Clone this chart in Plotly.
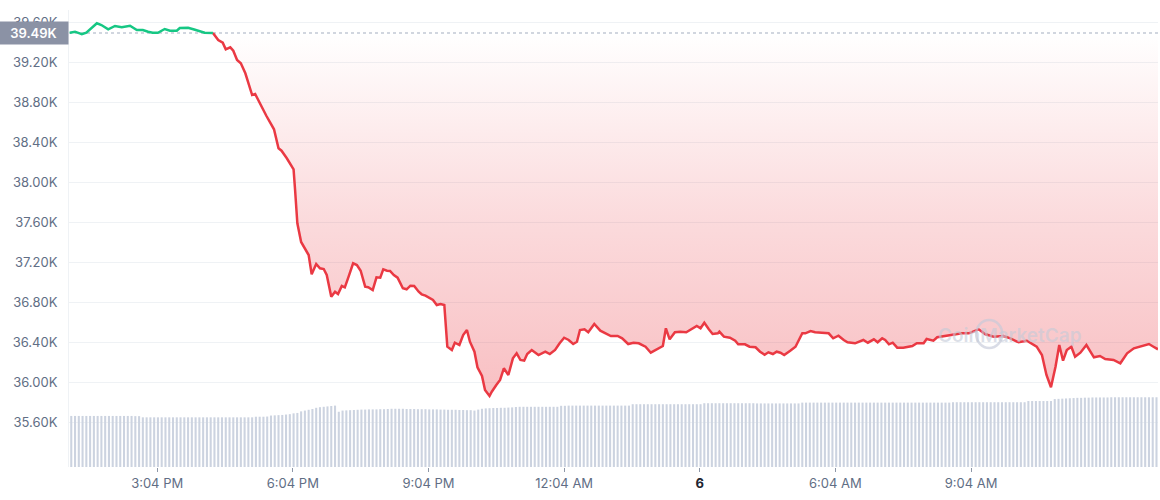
import pandas as pd
import plotly.graph_objects as go

# ---------------- data ----------------
BASE_PRICE = 39490          # reference (open) price shown by the dotted line
BASE_LABEL = "39.49K"
SPLIT_TIME = "16:18"        # where the price crosses below the reference

price_times = [
    "13:08", "13:15", "13:24", "13:30", "13:44", "13:50", "13:59", "14:08", "14:17", "14:28",
    "14:37", "14:45", "14:52", "14:58", "15:05", "15:14", "15:21", "15:30", "15:34", "15:45",
    "15:52", "15:58", "16:07", "16:18",
    "16:25", "16:31", "16:35", "16:41", "16:45", "16:50", "16:55", "17:01", "17:05", "17:10",
    "17:14", "17:18", "17:24", "17:29", "17:34", "17:39", "17:45", "17:49", "17:56", "18:05",
    "18:07", "18:10", "18:15", "18:20", "18:25", "18:29", "18:35", "18:40", "18:45", "18:49",
    "18:55", "19:00", "19:04", "19:09", "19:13", "19:18", "19:24", "19:29", "19:34", "19:40",
    "19:44", "19:50", "19:55", "20:00", "20:04", "20:09", "20:13", "20:18", "20:23", "20:30",
    "20:35", "20:40", "20:45", "20:51", "20:55", "21:00", "21:05", "21:10", "21:15", "21:20",
    "21:25", "21:29", "21:35", "21:39", "21:45", "21:50", "21:55", "21:59", "22:05", "22:09",
    "22:15", "22:19", "22:25", "22:28", "22:34", "22:39", "22:44", "22:50", "22:56", "23:01",
    "23:06", "23:11", "23:15", "23:21", "23:30", "23:39", "23:45", "23:52", "23:58", "00:04",
    "00:10", "00:16", "00:21", "00:25", "00:31", "00:36", "00:44", "00:52", "00:59", "01:06",
    "01:15", "01:21", "01:29", "01:36", "01:43", "01:52", "01:59", "02:07", "02:15", "02:19",
    "02:24", "02:31", "02:38", "02:46", "02:54", "03:00", "03:05", "03:10", "03:16", "03:21",
    "03:28", "03:30", "03:36", "03:44", "03:51", "03:55", "04:04", "04:10", "04:18", "04:24",
    "04:30", "04:35", "04:41", "04:46", "04:51", "04:56", "05:04", "05:11", "05:20", "05:24",
    "05:31", "05:37", "05:46", "05:55", "06:01", "06:08", "06:15", "06:20", "06:30", "06:37",
    "06:41", "06:47", "06:55", "07:00", "07:06", "07:10", "07:15", "07:20", "07:26", "07:34",
    "07:46", "07:52", "08:01", "08:05", "08:14", "08:19", "08:30", "08:39", "08:45", "08:52",
    "09:01", "09:10", "09:14", "09:23", "09:34", "09:47", "09:56", "10:07", "10:18", "10:31",
    "10:38", "10:44", "10:50", "10:56", "11:01", "11:06", "11:11", "11:17", "11:22", "11:29",
    "11:37", "11:47", "11:55", "12:02", "12:13", "12:22", "12:31", "12:40", "12:49", "13:00",
    "13:06", "13:12",
]
price_values = [
    39493, 39503, 39478, 39493, 39587, 39570, 39527, 39560, 39547, 39563,
    39520, 39520, 39503, 39492, 39492, 39530, 39513, 39513, 39540, 39543,
    39527, 39510, 39492, 39490,
    39420, 39393, 39327, 39347, 39313, 39220, 39187, 39087, 38987, 38870,
    38880, 38820, 38720, 38660, 38593, 38527, 38337, 38313, 38237, 38127,
    37920, 37587, 37400, 37337, 37270, 37077, 37180, 37137, 37130, 37070,
    36853, 36903, 36880, 36960, 36947, 37053, 37187, 37170, 37113, 36953,
    36947, 36920, 37047, 37043, 37127, 37113, 37110, 37070, 37043, 36937,
    36927, 36963, 36960, 36903, 36877, 36863, 36837, 36820, 36770, 36780,
    36770, 36353, 36320, 36393, 36370, 36470, 36520, 36403, 36303, 36147,
    36060, 35920, 35860, 35903, 35970, 36020, 36137, 36070, 36237, 36287,
    36220, 36213, 36280, 36320, 36270, 36303, 36280, 36320, 36387, 36443,
    36420, 36380, 36403, 36520, 36527, 36497, 36580, 36513, 36487, 36460,
    36460, 36437, 36380, 36393, 36387, 36353, 36293, 36327, 36360, 36537,
    36427, 36497, 36503, 36497, 36537, 36560, 36537, 36593, 36527, 36480,
    36487, 36503, 36453, 36443, 36413, 36377, 36377, 36353, 36347, 36303,
    36273, 36297, 36280, 36303, 36293, 36270, 36313, 36353, 36487, 36487,
    36510, 36497, 36493, 36487, 36437, 36463, 36420, 36397, 36387, 36413,
    36420, 36393, 36427, 36397, 36437, 36420, 36377, 36393, 36343, 36343,
    36360, 36387, 36387, 36430, 36413, 36447, 36460, 36477, 36480, 36487,
    36487, 36513, 36527, 36477, 36453, 36460, 36437, 36397, 36413, 36353,
    36270, 36070, 35947, 36153, 36370, 36213, 36320, 36353, 36253, 36293,
    36370, 36247, 36260, 36230, 36220, 36187, 36287, 36337, 36353, 36380,
    36353, 36327,
]

# 24h volume (billions USD), one bar every 5 minutes
volume_start = "2022-01-05 13:10"
volume_values = [
    25.7, 25.7, 25.7, 25.7, 25.7, 25.7, 25.7, 25.7, 25.7, 25.7, 25.7, 25.7,
    25.7, 25.7, 25.7, 25.7, 25.7, 25.6, 25.6, 25.0, 25.0, 25.0, 25.0, 25.0,
    25.0, 25.0, 25.0, 25.0, 25.0, 25.0, 25.0, 25.0, 25.0, 25.0, 25.0, 25.0,
    25.0, 25.0, 25.0, 25.0, 25.0, 25.0, 25.0, 25.0, 25.0, 25.0, 25.0, 25.0,
    25.0, 25.3, 25.3, 25.3, 25.4, 25.9, 26.0, 26.1, 26.2, 26.4, 26.6, 27.0,
    27.2, 28.0, 28.4, 28.8, 29.2, 29.8, 30.1, 30.3, 30.5, 30.7, 30.9, 27.8,
    28.4, 28.5, 28.6, 28.7, 28.8, 28.9, 28.9, 29.0, 29.0, 29.0, 29.1, 29.1,
    29.2, 29.3, 29.3, 29.3, 29.3, 29.2, 29.2, 29.2, 29.1, 29.1, 29.1, 29.0,
    29.0, 29.0, 28.9, 28.9, 28.8, 28.8, 28.8, 28.7, 28.7, 28.6, 28.6, 28.4,
    28.9, 29.3, 29.5, 29.6, 29.7, 29.7, 29.8, 29.8, 29.9, 30.0, 30.2, 30.3,
    30.3, 30.3, 30.3, 30.3, 30.3, 30.3, 30.3, 30.3, 30.3, 30.3, 30.8, 30.8,
    30.9, 30.9, 30.9, 30.9, 30.9, 30.9, 30.9, 30.9, 30.9, 30.9, 30.9, 30.9,
    30.9, 30.9, 30.9, 30.9, 30.9, 31.6, 31.6, 31.6, 31.6, 31.6, 31.6, 31.6,
    31.6, 31.6, 31.6, 31.6, 31.6, 31.6, 31.6, 31.6, 31.6, 31.6, 31.6, 31.6,
    32.1, 32.1, 32.1, 32.1, 32.1, 32.1, 32.1, 32.1, 32.1, 32.1, 32.1, 32.1,
    32.1, 32.1, 32.0, 32.0, 32.0, 32.0, 32.0, 32.0, 32.0, 32.0, 32.0, 32.0,
    32.0, 32.0, 32.4, 32.4, 32.4, 32.4, 32.4, 32.4, 32.4, 32.4, 32.4, 32.4,
    32.4, 32.4, 32.4, 32.4, 32.4, 32.4, 32.4, 32.4, 32.4, 32.4, 32.4, 32.4,
    32.4, 32.4, 32.4, 32.4, 32.4, 32.4, 32.4, 32.4, 32.4, 32.4, 32.4, 32.4,
    32.4, 32.4, 32.4, 32.4, 32.4, 32.4, 32.6, 32.6, 32.6, 32.6, 32.6, 32.6,
    32.6, 32.6, 32.6, 32.6, 32.6, 32.6, 32.6, 32.6, 32.6, 32.6, 32.6, 32.6,
    32.6, 32.6, 33.2, 33.2, 33.2, 33.2, 33.2, 33.2, 33.2, 34.2, 34.3, 34.4,
    34.5, 34.6, 34.7, 34.8, 34.8, 34.9, 34.9, 35.0, 35.0, 35.0, 35.0, 35.0,
    35.1, 35.1, 35.1, 35.1, 35.1, 35.1, 35.1, 35.1, 35.1, 35.1, 35.1, 35.1,
    35.1,
]

x_tick_times = ["2022-01-05 15:04", "2022-01-05 18:04", "2022-01-05 21:04",
                "2022-01-06 00:04", "2022-01-06 03:04", "2022-01-06 06:04",
                "2022-01-06 09:04"]
x_tick_labels = ["3:04 PM", "6:04 PM", "9:04 PM", "12:04 AM",
                 "<span style='color:#222531'><b>6</b></span>", "6:04 AM", "9:04 AM"]
y_tick_values = [35600, 36000, 36400, 36800, 37200, 37600, 38000, 38400, 38800, 39200, 39600]
y_tick_labels = ["35.60K", "36.00K", "36.40K", "36.80K", "37.20K", "37.60K",
                 "38.00K", "38.40K", "38.80K", "39.20K", "39.60K"]

# ---------------- build ----------------
stamps = []
day = pd.Timestamp("2022-01-05")
prev = None
for t in price_times:
    h, m = map(int, t.split(":"))
    mins = h * 60 + m
    if prev is not None and mins < prev:
        day += pd.Timedelta(days=1)
    prev = mins
    stamps.append(day + pd.Timedelta(hours=h, minutes=m))

k = price_times.index(SPLIT_TIME)
green_x, green_y = stamps[:k + 1], price_values[:k + 1]
red_x, red_y = stamps[k:], price_values[k:]

vol_x = pd.date_range(volume_start, periods=len(volume_values), freq="5min")

RED = "#ea3943"
GREEN = "#16c784"
LABEL = "#616e85"

fig = go.Figure()

# invisible reference baseline for the fill
fig.add_trace(go.Scatter(
    x=[red_x[0], red_x[-1]], y=[BASE_PRICE, BASE_PRICE],
    mode="lines", line=dict(width=0, color="rgba(0,0,0,0)"),
    hoverinfo="skip", showlegend=False))

fig.add_trace(go.Scatter(
    x=red_x, y=red_y, mode="lines",
    line=dict(color=RED, width=2.5),
    fill="tonexty",
    fillgradient=dict(
        type="vertical",
        start=min(red_y), stop=BASE_PRICE,
        colorscale=[[0, "rgba(234,57,67,0.32)"],
                    [0.5, "rgba(234,57,67,0.18)"],
                    [1, "rgba(234,57,67,0.0)"]]),
    hoverinfo="skip", showlegend=False))

fig.add_trace(go.Scatter(
    x=green_x, y=green_y, mode="lines",
    line=dict(color=GREEN, width=2.5),
    hoverinfo="skip", showlegend=False))

fig.add_trace(go.Bar(
    x=vol_x, y=volume_values, yaxis="y2",
    marker=dict(color="#ccd3e0", line=dict(width=0)),
    hoverinfo="skip", showlegend=False))

fig.add_shape(type="line", xref="paper", x0=0, x1=1, yref="y",
              y0=BASE_PRICE, y1=BASE_PRICE,
              line=dict(color="#a3adbf", width=1, dash="dot"), layer="below")

fig.add_annotation(xref="paper", x=0, xanchor="right", yref="y", y=BASE_PRICE,
                   yanchor="middle", text=BASE_LABEL, showarrow=False,
                   width=69, height=22, borderpad=0, bgcolor="#8b92a5",
                   font=dict(family="Inter", size=13, color="white", weight=600))

# watermark
fig.add_annotation(xref="paper", x=0.932, yref="y", y=36465, text="CoinMarketCap",
                   showarrow=False, font=dict(family="Inter", size=19,
                                              color="rgba(196,202,216,0.6)", weight=600))
fig.add_shape(type="circle", xref="paper", yref="y",
              x0=0.833, x1=0.857, y0=36340, y1=36620,
              line=dict(color="rgba(196,202,216,0.65)", width=2.5))

fig.update_layout(
    width=1160, height=500,
    margin=dict(l=69, r=2, t=10, b=33),
    paper_bgcolor="white", plot_bgcolor="white",
    bargap=0.45,
    font=dict(family="Inter", size=13, color=LABEL),
    xaxis=dict(
        type="date",
        range=["2022-01-05 13:07", "2022-01-06 13:12"],
        tickvals=x_tick_times, ticktext=x_tick_labels,
        showgrid=False, zeroline=False, showline=False,
        ticks="outside", ticklen=4, tickcolor="#8f98a8", tickwidth=1,
        tickfont=dict(family="Inter", size=13, color=LABEL),
    ),
    yaxis=dict(
        range=[35150, 39720],
        tickvals=y_tick_values, ticktext=y_tick_labels,
        showgrid=True, gridcolor="#eff2f5", gridwidth=1,
        zeroline=False, showline=True, linecolor="#eff2f5", linewidth=1,
        ticks="", ticklabelstandoff=8,
        tickfont=dict(family="Inter", size=13, color=LABEL),
    ),
    yaxis2=dict(
        overlaying="y", range=[0, 230], visible=False, showgrid=False,
    ),
    hovermode=False,
)

fig.write_html(
    "out.html",
    config={"displayModeBar": False, "staticPlot": True},
    post_script="document.body.style.margin='0';document.body.style.overflow='hidden';",
)
